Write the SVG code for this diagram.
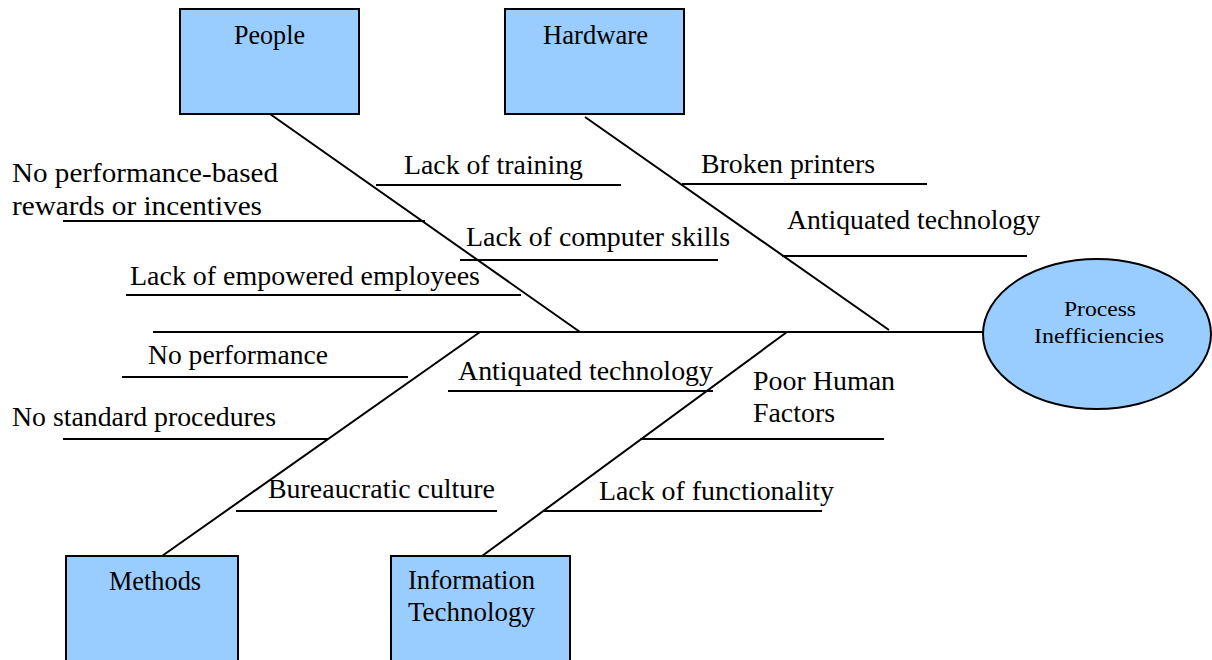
<svg xmlns="http://www.w3.org/2000/svg" width="1212" height="660" viewBox="0 0 1212 660">
<style>
  .box { fill: #99CCFF; stroke: #000; stroke-width: 2; }
  .ln { stroke: #000; stroke-width: 2; fill: none; }
  text { font-family: "Liberation Serif", "Times New Roman", serif; fill: #000; }
  .lbl { font-size: 27px; }
  .eff { font-size: 22px; }
</style>
<rect width="1212" height="660" fill="#ffffff"/>
<g id="connectors">
  <line class="ln" x1="153" y1="332" x2="983" y2="332"/>
  <line class="ln" x1="270" y1="114" x2="580" y2="332"/>
  <line class="ln" x1="585" y1="117" x2="889" y2="330"/>
  <line class="ln" x1="480" y1="332" x2="162" y2="556"/>
  <line class="ln" x1="787" y1="332" x2="482" y2="556"/>
  <line class="ln" x1="376" y1="185" x2="621" y2="185"/>
  <line class="ln" x1="63" y1="221" x2="425" y2="221"/>
  <line class="ln" x1="460" y1="260" x2="718" y2="260"/>
  <line class="ln" x1="126" y1="295" x2="521" y2="295"/>
  <line class="ln" x1="682" y1="184" x2="927" y2="184"/>
  <line class="ln" x1="782" y1="256" x2="1027" y2="256"/>
  <line class="ln" x1="122" y1="377" x2="408" y2="377"/>
  <line class="ln" x1="63" y1="439" x2="328" y2="439"/>
  <line class="ln" x1="236" y1="511" x2="497" y2="511"/>
  <line class="ln" x1="448" y1="391" x2="713" y2="391"/>
  <line class="ln" x1="640" y1="439" x2="884" y2="439"/>
  <line class="ln" x1="543" y1="511" x2="822" y2="511"/>
</g>
<g id="people">
  <rect class="box" x="180" y="9" width="179" height="105"/>
  <text class="lbl" x="234" y="44" textLength="71" lengthAdjust="spacingAndGlyphs">People</text>
</g>
<g id="hardware">
  <rect class="box" x="505" y="9" width="179" height="105"/>
  <text class="lbl" x="543" y="44" textLength="105" lengthAdjust="spacingAndGlyphs">Hardware</text>
</g>
<g id="methods">
  <rect class="box" x="66" y="556" width="172" height="110"/>
  <text class="lbl" x="109" y="590" textLength="92" lengthAdjust="spacingAndGlyphs">Methods</text>
</g>
<g id="information-technology">
  <rect class="box" x="391" y="556" width="179" height="110"/>
  <text class="lbl" x="408" y="589" textLength="127" lengthAdjust="spacingAndGlyphs">Information</text>
  <text class="lbl" x="408" y="621" textLength="127" lengthAdjust="spacingAndGlyphs">Technology</text>
</g>
<g id="process-inefficiencies">
  <ellipse class="box" cx="1097" cy="334" rx="114" ry="75"/>
  <text class="eff" x="1064" y="316" textLength="72" lengthAdjust="spacingAndGlyphs">Process</text>
  <text class="eff" x="1034" y="343" textLength="130" lengthAdjust="spacingAndGlyphs">Inefficiencies</text>
</g>
<g id="causes">
  <text class="lbl" x="404" y="174" textLength="179" lengthAdjust="spacingAndGlyphs">Lack of training</text>
  <text class="lbl" x="12" y="182" textLength="266" lengthAdjust="spacingAndGlyphs">No performance-based</text>
  <text class="lbl" x="12" y="215" textLength="250" lengthAdjust="spacingAndGlyphs">rewards or incentives</text>
  <text class="lbl" x="466" y="246" textLength="264" lengthAdjust="spacingAndGlyphs">Lack of computer skills</text>
  <text class="lbl" x="130" y="285" textLength="350" lengthAdjust="spacingAndGlyphs">Lack of empowered employees</text>
  <text class="lbl" x="701" y="173" textLength="174" lengthAdjust="spacingAndGlyphs">Broken printers</text>
  <text class="lbl" x="787" y="229" textLength="253" lengthAdjust="spacingAndGlyphs">Antiquated technology</text>
  <text class="lbl" x="148" y="364" textLength="180" lengthAdjust="spacingAndGlyphs">No performance</text>
  <text class="lbl" x="12" y="426" textLength="264" lengthAdjust="spacingAndGlyphs">No standard procedures</text>
  <text class="lbl" x="458" y="380" textLength="255" lengthAdjust="spacingAndGlyphs">Antiquated technology</text>
  <text class="lbl" x="753" y="390" textLength="142" lengthAdjust="spacingAndGlyphs">Poor Human</text>
  <text class="lbl" x="753" y="422" textLength="82" lengthAdjust="spacingAndGlyphs">Factors</text>
  <text class="lbl" x="268" y="498" textLength="227" lengthAdjust="spacingAndGlyphs">Bureaucratic culture</text>
  <text class="lbl" x="599" y="500" textLength="235" lengthAdjust="spacingAndGlyphs">Lack of functionality</text>
</g>
</svg>
